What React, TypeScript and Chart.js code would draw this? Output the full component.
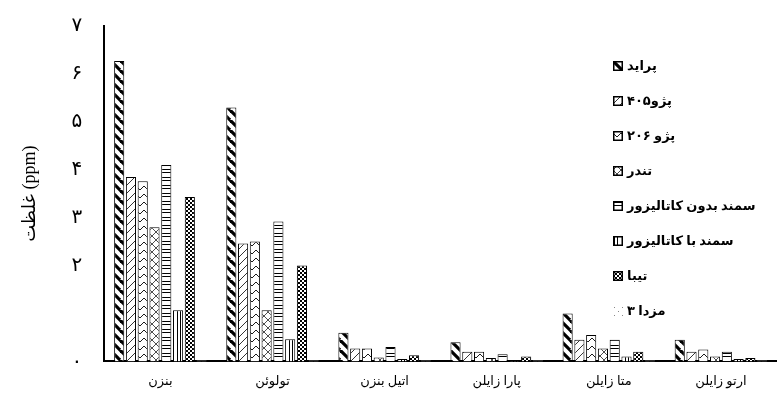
import React, { useEffect, useRef } from 'react';
import { Chart, registerables } from 'chart.js';

Chart.register(...registerables);

const categories = ['بنزن', 'تولوئن', 'اتیل بنزن', 'پارا زایلن', 'متا زایلن', 'ارتو زایلن'];
const seriesNames = ['پراید', 'پژو۴۰۵', 'پژو ۲۰۶', 'تندر', 'سمند بدون کاتالیزور', 'سمند با کاتالیزور', 'تیبا', 'مزدا ۳'];
const pride = [6.27, 5.3, 0.6, 0.4, 1.0, 0.45];
const peugeot405 = [3.85, 2.46, 0.27, 0.2, 0.45, 0.2];
const peugeot206 = [3.76, 2.5, 0.27, 0.2, 0.55, 0.25];
const tondar = [2.8, 1.07, 0.08, 0.07, 0.27, 0.1];
const samandNoCat = [4.1, 2.92, 0.3, 0.15, 0.45, 0.2];
const samandCat = [1.07, 0.46, 0.05, 0.02, 0.1, 0.05];
const tiba = [3.43, 2.0, 0.13, 0.1, 0.2, 0.07];
const mazda3 = [0.02, 0.02, 0.02, 0.02, 0.02, 0.02];
const yTickLabels: Record<number, string> = { 0: '٠', 2: '۲', 3: '۳', 4: '۴', 5: '۵', 6: '۶', 7: '٧' };

const FONT = '"Liberation Serif", "DejaVu Serif", "DejaVu Sans", serif';

function makePattern(kind: number): CanvasPattern | string {
  const c = document.createElement('canvas');
  const s = kind === 0 ? 10 : 8;
  c.width = s; c.height = s;
  const g = c.getContext('2d')!;
  g.fillStyle = '#fff';
  g.fillRect(0, 0, s, s);
  g.strokeStyle = '#000';
  g.fillStyle = '#000';
  g.lineWidth = 1;
  const line = (x1: number, y1: number, x2: number, y2: number) => {
    g.beginPath(); g.moveTo(x1, y1); g.lineTo(x2, y2); g.stroke();
  };
  switch (kind) {
    case 0:
      g.lineWidth = 3.2;
      line(0, 0, s, s); line(-s, 0, 0, s); line(0, -s, 2 * s, s);
      break;
    case 1:
      g.lineWidth = 0.8;
      line(0, s, s, 0); line(-s / 2, s / 2, s / 2, -s / 2); line(s / 2, s * 1.5, s * 1.5, s / 2);
      break;
    case 2:
      g.lineWidth = 0.9;
      line(0, 2, 4, 6); line(4, 6, 8, 2);
      break;
    case 3:
      g.lineWidth = 0.7;
      line(0, 4, 4, 0); line(4, 0, 8, 4); line(8, 4, 4, 8); line(4, 8, 0, 4);
      break;
    case 4:
      line(0, 1.5, s, 1.5); line(0, 4.5, s, 4.5);
      break;
    case 5:
      line(1.5, 0, 1.5, s); line(4.5, 0, 4.5, s);
      break;
    case 6:
      for (let y = 0; y < 4; y++) for (let x = 0; x < 4; x++) if ((x + y) % 2 === 0) g.fillRect(x * 2, y * 2, 2, 2);
      break;
    case 7:
      g.fillStyle = '#888';
      g.fillRect(1, 1, 1, 1); g.fillRect(5, 5, 1, 1);
      break;
  }
  return g.createPattern(c, 'repeat') || '#fff';
}

const LegendBox: React.FC<{ kind: number }> = ({ kind }) => {
  const ref = useRef<HTMLCanvasElement | null>(null);
  useEffect(() => {
    const cv = ref.current;
    if (!cv) return;
    const g = cv.getContext('2d')!;
    g.fillStyle = makePattern(kind) as any;
    g.fillRect(0, 0, 10, 10);
    if (kind !== 7) {
      g.strokeStyle = '#000';
      g.lineWidth = 1.5;
      g.strokeRect(0.75, 0.75, 8.5, 8.5);
    }
  }, [kind]);
  return <canvas ref={ref} width={10} height={10} style={{ display: 'inline-block', verticalAlign: 'middle' }} />;
};

const App: React.FC = () => {
  const chartRef = useRef<HTMLCanvasElement | null>(null);
  const chartInstanceRef = useRef<Chart | null>(null);

  useEffect(() => {
    const canvas = chartRef.current;
    if (!canvas) return;
    const values = [pride, peugeot405, peugeot206, tondar, samandNoCat, samandCat, tiba, mazda3];
    const datasets = values.map((d, i) => ({
      label: seriesNames[i],
      data: d,
      backgroundColor: makePattern(i) as any,
      borderColor: i === 7 ? '#bbb' : '#000',
      borderWidth: 1,
      categoryPercentage: 0.84,
      barPercentage: 0.86,
    }));
    chartInstanceRef.current = new Chart(canvas, {
      type: 'bar',
      data: { labels: categories, datasets },
      options: {
        animation: false,
        responsive: false,
        layout: { padding: { top: 12, right: 0, left: 15, bottom: 14 } },
        plugins: { legend: { display: false }, tooltip: { enabled: false } },
        scales: {
          x: {
            grid: { display: false },
            border: { color: '#000', width: 2 },
            ticks: { color: '#000', padding: 4, font: { family: FONT, size: 13 } },
          },
          y: {
            min: 0,
            max: 7,
            grid: { display: false, drawTicks: true },
            border: { color: '#000', width: 2 },
            ticks: {
              stepSize: 1,
              color: '#000',
              padding: 14,
              font: { family: FONT, size: 20 },
              callback: (v: any) => yTickLabels[v as number] ?? '',
            },
            title: {
              display: true,
              text: 'غلظت (ppm)',
              color: '#000',
              padding: { bottom: 17 },
              font: { family: FONT, size: 18 },
            },
          },
        },
      },
    });
    return () => {
      chartInstanceRef.current?.destroy();
      chartInstanceRef.current = null;
    };
  }, []);

  return (
    <div style={{ position: 'fixed', left: 0, top: 0, width: 777, height: 407, background: '#fff' }}>
      <canvas ref={chartRef} width={777} height={407} />
      <div style={{ position: 'absolute', left: 613, top: 48, fontFamily: FONT, fontSize: 13, fontWeight: 'bold' }}>
        {seriesNames.map((n, i) => (
          <div key={n} dir="ltr" style={{ height: 35, display: 'flex', alignItems: 'center', gap: 4 }}>
            <LegendBox kind={i} />
            <span dir="rtl">{n}</span>
          </div>
        ))}
      </div>
    </div>
  );
};

export default App;
